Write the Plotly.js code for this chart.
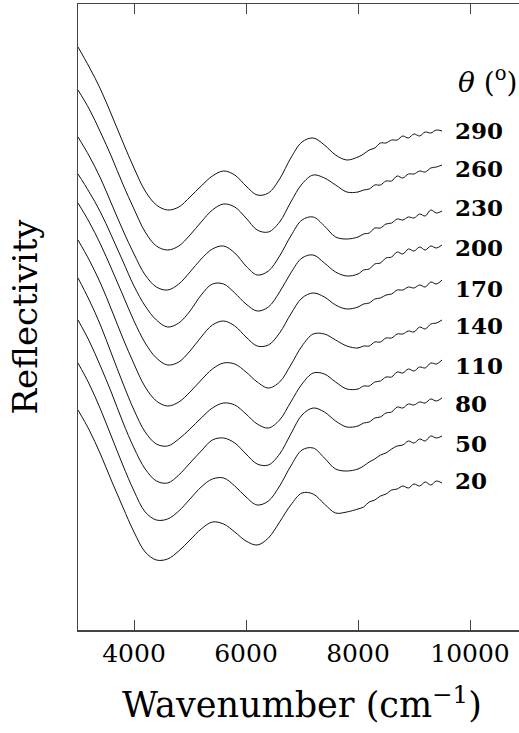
<!DOCTYPE html>
<html>
<head>
<meta charset="utf-8">
<script src="https://cdn.plot.ly/plotly-3.0.1.min.js"></script>
<style>
html, body { margin: 0; padding: 0; overflow: hidden; background: #fff; }
#chart { width: 545px; height: 733px; }
</style>
</head>
<body>
<div id="chart"></div>
<script>
// Wavenumber grid (cm^-1)
const wavenumber = [3000,3200,3400,3600,3800,4000,4200,4400,4600,4800,5000,5200,5400,5600,5800,6000,6200,6400,6600,6800,7000,7200,7400,7600,7800,8000,8100,8200,8300,8400,8500,8600,8700,8800,8900,9000,9100,9200,9300,9400,9500];

// Reflectivity (arbitrary units, curves offset vertically), one array per angle
const r290 = [583,563,541,515,488,462,439,425,420,423,433,444,454,459,455,444,435,437,451,472,488,492,485,475,470,473,476,480,482,487,487,490,490,494,492,496,494,498,497,500,499];
const r260 = [540,521,498,473,446,421,398,384,380,384,395,408,420,426,423,412,400,398,408,428,446,455,452,445,438,438,440,441,445,445,449,449,454,452,456,456,459,458,462,463,465];
const r230 = [493,474,452,426,400,376,355,343,340,346,358,371,381,384,377,364,355,359,374,394,410,413,404,393,391,393,396,397,402,402,406,407,411,410,413,412,416,414,420,417,419];
const r200 = [456,438,418,394,369,344,324,310,303,307,319,335,346,346,337,326,319,323,338,357,372,375,367,358,354,356,360,361,366,367,372,373,378,376,381,379,383,380,384,382,385];
const r170 = [427,408,386,361,335,309,287,272,265,268,279,293,305,309,304,293,284,285,297,316,332,337,333,325,321,323,326,327,331,332,335,336,340,340,343,342,345,343,348,346,350];
const r140 = [390,370,347,320,292,266,243,229,224,228,238,250,261,267,266,258,248,242,248,265,284,296,296,290,284,282,284,284,288,288,292,292,296,296,299,298,303,301,306,307,310];
const r110 = [352,330,305,276,247,220,198,186,184,191,201,212,222,227,225,216,206,202,210,228,246,257,256,248,241,241,244,244,248,249,253,253,258,257,261,259,263,262,267,266,270];
const r80  = [310,289,264,237,208,182,161,149,147,155,167,179,190,192,187,176,166,165,176,196,215,222,218,209,203,204,207,208,212,213,217,218,223,222,226,225,228,227,231,229,232];
const r50  = [267,246,221,193,165,139,118,110,111,119,131,143,151,152,144,133,125,129,144,164,180,182,172,161,159,161,164,168,171,175,177,181,184,185,189,187,191,189,194,192,194];
const r20  = [220,200,176,149,123,98,78,70,71,79,90,101,108,106,98,89,85,92,108,125,137,136,126,117,118,121,123,128,130,134,136,140,141,144,142,146,144,148,145,149,147];

const angleLabels = ['290','260','230','200','170','140','110','80','50','20'];
const series = [r290, r260, r230, r200, r170, r140, r110, r80, r50, r20];
const tickValues = [4000, 6000, 8000, 10000];

// label vertical anchors (layout positions)
const labelY = [500, 462, 423, 383, 342, 305, 265, 227, 187, 150];

const traces = series.map((ys, i) => ({
  x: wavenumber,
  y: ys,
  type: 'scatter',
  mode: 'lines',
  name: angleLabels[i],
  line: { color: '#111', width: 1.0, shape: 'spline', smoothing: 1 },
  hoverinfo: 'skip',
  showlegend: false
}));

const annotations = angleLabels.map((lab, i) => ({
  text: lab,
  x: 9700, xref: 'x', xanchor: 'left',
  y: labelY[i], yref: 'y', yanchor: 'middle',
  showarrow: false,
  font: { family: 'DejaVu Serif', size: 23, color: '#000', weight: 'bold' }
}));
annotations.push({
  text: '<i>θ</i> (<sup>o</sup>)',
  x: 0.985, xref: 'paper', xanchor: 'right',
  y: 550, yref: 'y', yanchor: 'middle',
  showarrow: false,
  font: { family: 'DejaVu Serif', size: 28, color: '#000' }
});

const layout = {
  width: 545, height: 733,
  margin: { l: 78, r: 19, t: 4, b: 103 },
  paper_bgcolor: '#fff', plot_bgcolor: '#fff',
  xaxis: {
    range: [3000, 11000],
    tickmode: 'array', tickvals: tickValues, ticktext: tickValues.map(String),
    ticks: 'inside', ticklen: 10, tickwidth: 1, tickcolor: '#444',
    showline: true, linecolor: '#444', linewidth: 1.5, mirror: 'ticks',
    showgrid: false, zeroline: false,
    tickfont: { family: 'DejaVu Serif', size: 25, color: '#000' },
    title: { text: 'Wavenumber (cm<sup>−1</sup>)', font: { family: 'DejaVu Serif', size: 35, color: '#000' }, standoff: 26 }
  },
  yaxis: {
    range: [0, 626],
    showticklabels: false, ticks: '',
    showline: true, linecolor: '#444', linewidth: 1.5, mirror: true,
    showgrid: false, zeroline: false,
    title: { text: 'Reflectivity', font: { family: 'DejaVu Serif', size: 34, color: '#000' }, standoff: 28 }
  },
  annotations: annotations
};

Plotly.newPlot('chart', traces, layout, { displayModeBar: false, staticPlot: true });
</script>
</body>
</html>
